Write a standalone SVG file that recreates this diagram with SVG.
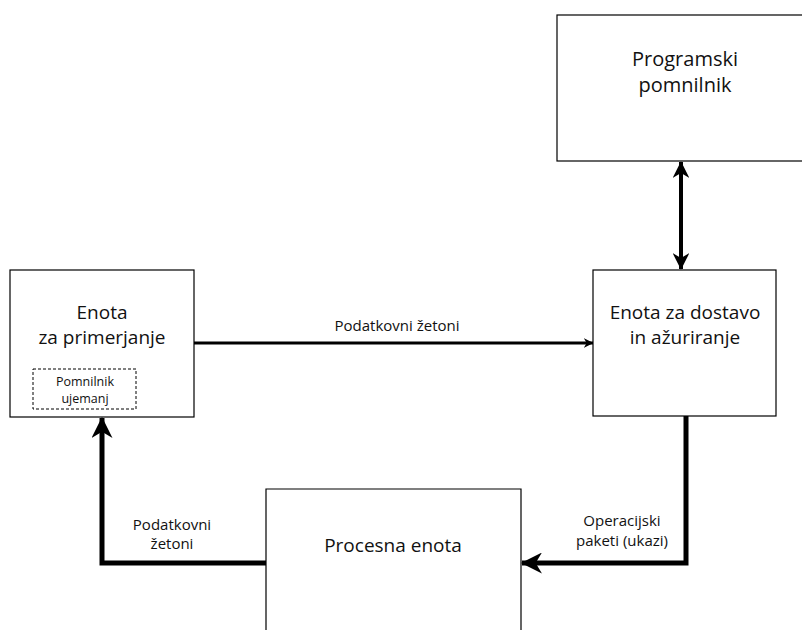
<svg xmlns="http://www.w3.org/2000/svg" width="802" height="630" viewBox="0 0 802 630">
<defs>
<style>
.box{fill:#fff;stroke:#000;stroke-width:1.2}
.t{font-family:"Open Sans","Noto Sans","DejaVu Sans",sans-serif;fill:#111;text-anchor:middle}
.big{font-size:19px}
.huge{font-size:20px}
.sm{font-size:15px}
.xs{font-size:12.5px}
.thick{fill:none;stroke:#000;stroke-width:5;stroke-linejoin:miter}
</style>
<marker id="ah" viewBox="0 0 10 10" refX="9.5" refY="5" markerWidth="3.2" markerHeight="3.2" orient="auto" markerUnits="strokeWidth">
<path d="M0,0 L10,5 L0,10 L3,5 Z" fill="#000"/>
</marker>
<marker id="ahm" viewBox="0 0 10 10" refX="9.5" refY="5" markerWidth="4.2" markerHeight="4.2" orient="auto-start-reverse" markerUnits="strokeWidth">
<path d="M0,0 L10,5 L0,10 L3,5 Z" fill="#000"/>
</marker>
</defs>
<rect width="802" height="630" fill="#fff"/>
<g id="programski">
<rect class="box" x="557" y="15" width="260" height="146"/>
<text class="t huge" x="685" y="66">Programski</text>
<text class="t huge" x="685" y="92">pomnilnik</text>
</g>
<g id="primerjanje">
<rect class="box" x="10" y="270" width="184" height="147"/>
<text class="t big" x="102" y="319">Enota</text>
<text class="t big" x="102" y="344">za primerjanje</text>
<rect x="33" y="369" width="103" height="40" fill="none" stroke="#000" stroke-width="1" stroke-dasharray="3,2"/>
<text class="t xs" x="85" y="386">Pomnilnik</text>
<text class="t xs" x="85" y="403">ujemanj</text>
</g>
<g id="dostava">
<rect class="box" x="593" y="270" width="183" height="146"/>
<text class="t big" x="685" y="319">Enota za dostavo</text>
<text class="t big" x="685" y="344">in ažuriranje</text>
</g>
<g id="procesna">
<path d="M266,645 V489 H521 V645" fill="#fff" stroke="#000" stroke-width="1.2"/>
<text class="t big" x="393" y="552">Procesna enota</text>
</g>
<g id="connectors">
<line x1="194" y1="343" x2="593" y2="343" stroke="#000" stroke-width="3" marker-end="url(#ah)"/>
<text class="t sm" x="397" y="331">Podatkovni žetoni</text>
<line x1="681" y1="162" x2="681" y2="269" stroke="#000" stroke-width="4" marker-start="url(#ahm)" marker-end="url(#ahm)"/>
<path class="thick" d="M686,416 V563 H522" marker-end="url(#ahm)"/>
<text class="t sm" x="622" y="526">Operacijski</text>
<text class="t sm" x="622" y="546">paketi (ukazi)</text>
<path class="thick" d="M266,563 H102 V418" marker-end="url(#ahm)"/>
<text class="t sm" x="172" y="530">Podatkovni</text>
<text class="t sm" x="172" y="549">žetoni</text>
</g>
</svg>
